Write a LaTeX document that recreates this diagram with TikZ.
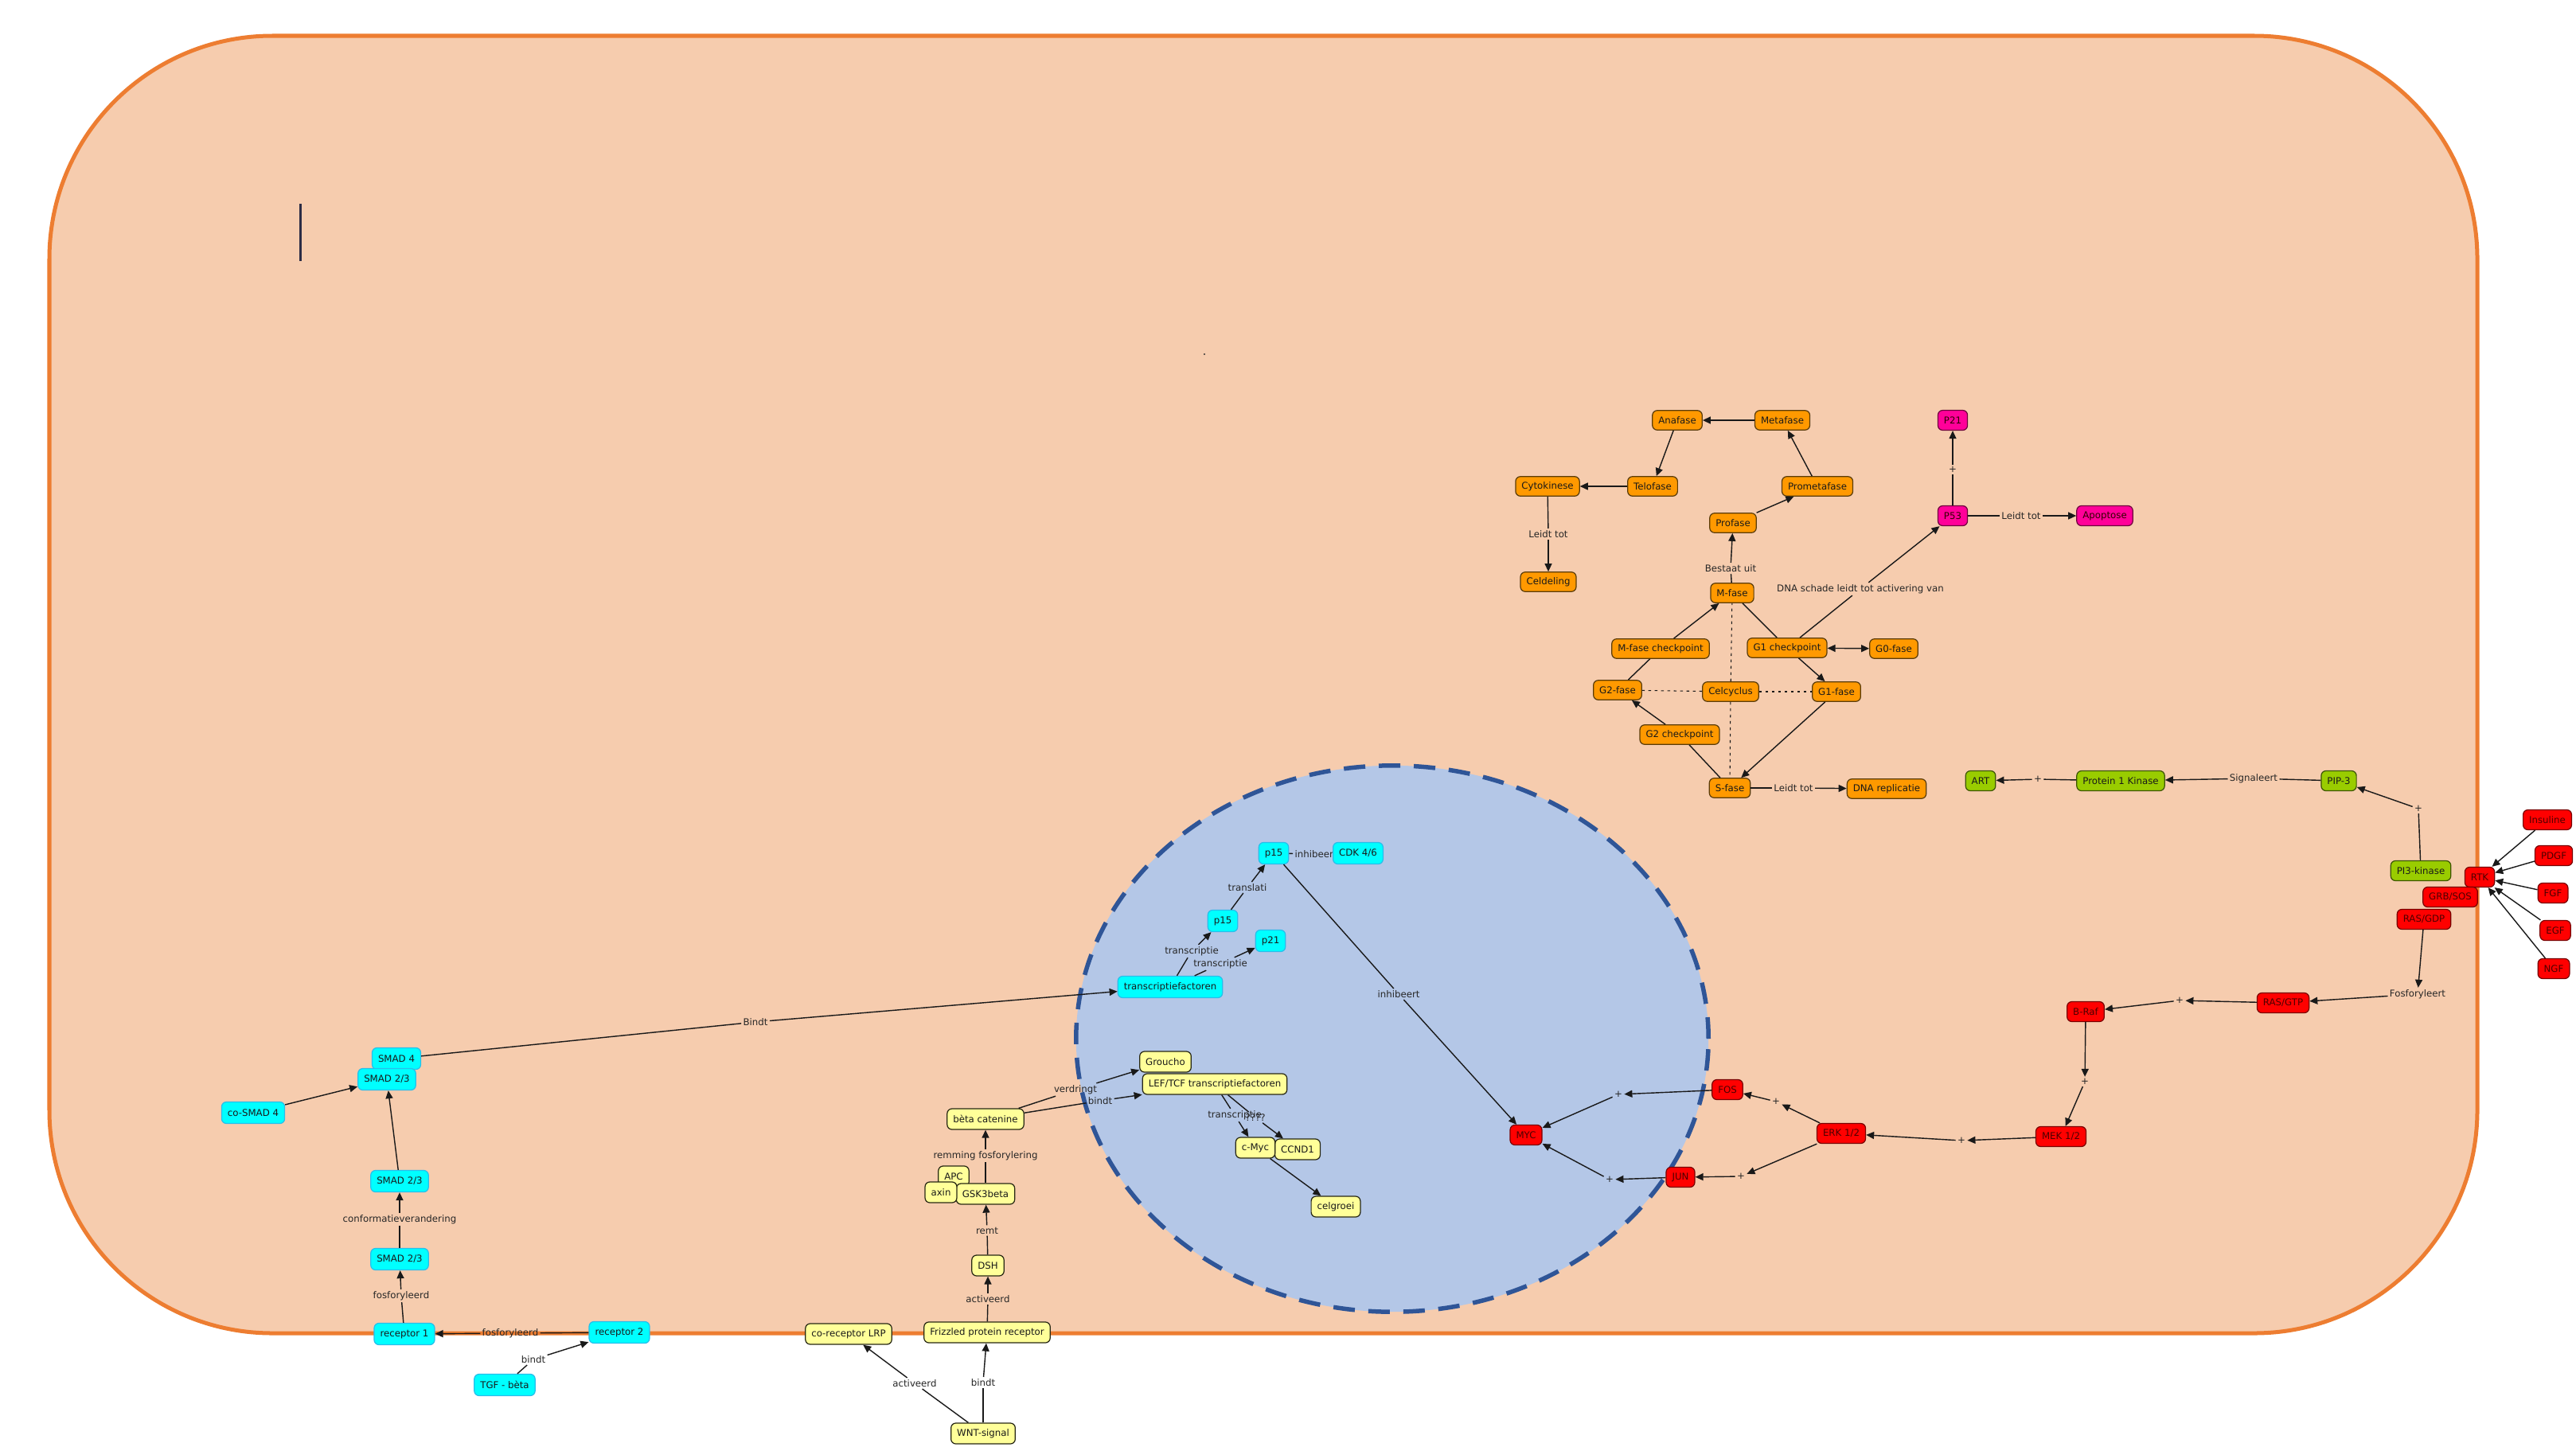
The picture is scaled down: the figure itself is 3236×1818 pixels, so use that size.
\documentclass[tikz,border=0pt]{standalone}
\usepackage{fontspec}
\setmainfont{DejaVu Sans}
\usetikzlibrary{arrows.meta}
\definecolor{celpeach}{RGB}{246,204,174}
\definecolor{celrand}{RGB}{237,125,49}
\definecolor{kernblauw}{RGB}{180,199,231}
\definecolor{kernrand}{RGB}{47,85,151}
\definecolor{faseoranje}{RGB}{255,153,0}
\definecolor{faserand}{RGB}{90,60,10}
\definecolor{roze}{RGB}{255,0,153}
\definecolor{rozerand}{RGB}{110,0,60}
\definecolor{smadcyaan}{RGB}{0,255,255}
\definecolor{smadrand}{RGB}{40,190,235}
\definecolor{wntgeel}{RGB}{255,255,153}
\definecolor{wntrand}{RGB}{40,40,20}
\definecolor{aktgroen}{RGB}{153,204,0}
\definecolor{aktrand}{RGB}{60,85,0}
\definecolor{mapkrood}{RGB}{255,0,0}
\definecolor{mapkrand}{RGB}{120,0,0}
\definecolor{lijngrijs}{RGB}{25,25,25}
\definecolor{cursorgrijs}{RGB}{45,45,70}
\newcommand{\mapfont}{\fontsize{3.35pt}{4pt}\selectfont}

\begin{document}
\begin{tikzpicture}[x=0.01cm, y=-0.01cm,
    cbox/.style={rounded corners=0.06cm, line width=0.35pt, font=\mapfont,
      inner xsep=0.075cm, inner ysep=0pt, minimum height=0.25cm, text=black!90},
    fase/.style={cbox, fill=faseoranje, draw=faserand, minimum height=0.245cm},
    p53box/.style={cbox, fill=roze, draw=rozerand, text=black!80!red},
    smad/.style={cbox, fill=smadcyaan, draw=smadrand, minimum height=0.27cm},
    wnt/.style={cbox, fill=wntgeel, draw=wntrand, minimum height=0.26cm},
    akt/.style={cbox, fill=aktgroen, draw=aktrand},
    mapk/.style={cbox, fill=mapkrood, draw=mapkrand, text=black!70!red},
    lbl/.style={font=\mapfont, inner sep=0.5pt, text=black!85},
    lijn/.style={draw=lijngrijs, line width=0.4pt},
    pijl/.style={lijn, -{Triangle[length=0.1cm, width=0.09cm]}}]

  \useasboundingbox (0,0) rectangle (3236,1818);
  \fill[white] (0,0) rectangle (3236,1818);

  % cel en kern
  \draw[celrand, fill=celpeach, line width=0.05cm, rounded corners=2.8cm] (62,45) rectangle (3112,1675);
  \draw[cursorgrijs, line width=0.03cm] (377,256) -- (377,328);
  \fill[black!80] (1513,445) circle[radius=0.012cm];
  \draw[kernrand, fill=kernblauw, line width=0.055cm, dash pattern=on 0.27cm off 0.17cm]
    (1749,1305) ellipse [x radius=3.97cm, y radius=3.43cm];

  % celcyclus
  \node[fase] (ana) at (2107,528) {Anafase};
  \node[fase] (meta) at (2239,528) {Metafase};
  \node[fase] (cyto) at (1944,611) {Cytokinese};
  \node[fase] (telo) at (2076,611) {Telofase};
  \node[fase] (prometa) at (2283,611) {Prometafase};
  \node[fase] (pro) at (2177,657) {Profase};
  \node[fase] (celdel) at (1945,731) {Celdeling};
  \node[fase] (mfase) at (2176,745) {M-fase};
  \node[fase] (mcheck) at (2086,815) {M-fase checkpoint};
  \node[fase] (gonecheck) at (2245,814) {G1 checkpoint};
  \node[fase] (gzero) at (2379,815) {G0-fase};
  \node[fase] (gtwo) at (2032,867) {G2-fase};
  \node[fase] (cyclus) at (2174,869) {Celcyclus};
  \node[fase] (gone) at (2307,869) {G1-fase};
  \node[fase] (gtwocheck) at (2110,923) {G2 checkpoint};
  \node[fase] (sfase) at (2173,990) {S-fase};
  \node[fase] (dnarep) at (2370,991) {DNA replicatie};
  \node[p53box] (ptwentyone) at (2453,528) {P21};
  \node[p53box] (pfiftythree) at (2453,648) {P53};
  \node[p53box] (apop) at (2644,648) {Apoptose};
  \node[lbl] (lleidta) at (1945,671) {Leidt tot};
  \node[lbl] (lbestaat) at (2174,714) {Bestaat uit};
  \node[lbl] (ldna) at (2337,740) {DNA schade leidt tot activering van};
  \node[lbl] (lleidtb) at (2253,990) {Leidt tot};
  \node[lbl] (lplusp) at (2453,590) {+};
  \node[lbl] (lleidtc) at (2539,648) {Leidt tot};

  % PI3K / AKT
  \node[akt] (art) at (2488,981) {ART};
  \node[akt] (pk) at (2664,981) {Protein 1 Kinase};
  \node[akt] (pip) at (2938,981) {PIP-3};
  \node[akt] (pik) at (3041,1094) {PI3-kinase};
  \node[lbl] (lplusa) at (2560,979) {+};
  \node[lbl] (lsign) at (2831,978) {Signaleert};
  \node[lbl] (lplusb) at (3038,1016) {+};

  % MAPK
  \node[mapk] (rtk) at (3115,1102) {RTK};
  \node[mapk] (grb) at (3078,1127) {GRB/SOS};
  \node[mapk] (rasgdp) at (3045,1155) {RAS/GDP};
  \node[mapk] (ins) at (3200,1030) {Insuline};
  \node[mapk] (pdgf) at (3208,1075) {PDGF};
  \node[mapk] (fgf) at (3207,1122) {FGF};
  \node[mapk] (egf) at (3210,1169) {EGF};
  \node[mapk] (ngf) at (3208,1217) {NGF};
  \node[mapk] (rasgtp) at (2868,1260) {RAS/GTP};
  \node[mapk] (braf) at (2620,1271) {B-Raf};
  \node[mapk] (mek) at (2589,1428) {MEK 1/2};
  \node[mapk] (erk) at (2313,1424) {ERK 1/2};
  \node[mapk] (fos) at (2170,1369) {FOS};
  \node[mapk] (jun) at (2111,1479) {JUN};
  \node[mapk] (myc) at (1917,1426) {MYC};
  \node[lbl] (lfosf) at (3037,1249) {Fosforyleert};
  \node[lbl] (lplusc) at (2738,1257) {+};
  \node[lbl] (lplusd) at (2619,1359) {+};
  \node[lbl] (lpluse) at (2464,1433) {+};
  \node[lbl] (lplusf) at (2231,1384) {+};
  \node[lbl] (lplusg) at (2187,1478) {+};
  \node[lbl] (lplush) at (2033,1375) {+};
  \node[lbl] (lplusi) at (2022,1482) {+};

  % TGF-beta / SMAD
  \node[smad] (pfifteen) at (1600,1072) {p15};
  \node[lbl] (linha) at (1653,1073) {inhibeert};
  \node[smad] (cdk) at (1706,1072) {CDK 4/6};
  \node[smad] (pfifteenb) at (1536,1157) {p15};
  \node[smad] (pone) at (1596,1182) {p21};
  \node[smad] (tfact) at (1470,1240) {transcriptiefactoren};
  \node[smad] (smadfour) at (498,1330) {SMAD 4};
  \node[smad] (smadtop) at (486,1356) {SMAD 2/3};
  \node[smad] (cosmad) at (318,1398) {co-SMAD 4};
  \node[smad] (smadmid) at (502,1484) {SMAD 2/3};
  \node[smad] (smadlow) at (502,1582) {SMAD 2/3};
  \node[smad] (recone) at (508,1676) {receptor 1};
  \node[smad] (rectwo) at (778,1674) {receptor 2};
  \node[smad] (tgf) at (634,1740) {TGF - bèta};
  \node[lbl] (ltransl) at (1567,1115) {translati};
  \node[lbl] (ltransa) at (1497,1195) {transcriptie};
  \node[lbl] (ltransb) at (1533,1211) {transcriptie};
  \node[lbl] (linhb) at (1757,1249) {inhibeert};
  \node[lbl] (lbindta) at (949,1284) {Bindt};
  \node[lbl] (lconf) at (502,1532) {conformatieverandering};
  \node[lbl] (lfosfa) at (504,1628) {fosforyleerd};
  \node[lbl] (lfosfb) at (641,1675) {fosforyleerd};
  \node[lbl] (lbindtb) at (670,1708) {bindt};

  % WNT
  \node[wnt] (groucho) at (1464,1334) {Groucho};
  \node[wnt] (leftcf) at (1526,1362) {LEF/TCF transcriptiefactoren};
  \node[wnt] (beta) at (1238,1406) {bèta catenine};
  \node[wnt] (ccnd) at (1630,1444) {CCND1};
  \node[wnt] (cmyc) at (1577,1442) {c-Myc};
  \node[wnt] (celgroei) at (1678,1516) {celgroei};
  \node[wnt] (apc) at (1198,1478) {APC};
  \node[wnt] (gsk) at (1238,1500) {GSK3beta};
  \node[wnt] (axin) at (1182,1498) {axin};
  \node[wnt] (dsh) at (1241,1590) {DSH};
  \node[wnt] (frizzled) at (1240,1674) {Frizzled protein receptor};
  \node[wnt] (lrp) at (1066,1676) {co-receptor LRP};
  \node[wnt] (wntsig) at (1235,1801) {WNT-signal};
  \node[lbl] (lverd) at (1351,1369) {verdringt};
  \node[lbl] (lbindtc) at (1382,1383) {bindt};
  \node[lbl] (ltransc) at (1551,1401) {transcriptie};
  \node[lbl] (lvraag) at (1577,1404) {????};
  \node[lbl] (lremming) at (1238,1452) {remming fosforylering};
  \node[lbl] (lremt) at (1240,1546) {remt};
  \node[lbl] (lacta) at (1241,1632) {activeerd};
  \node[lbl] (lbindtd) at (1235,1737) {bindt};
  \node[lbl] (lactb) at (1149,1738) {activeerd};

  % verbindingen zonder tekst
  \foreach \a/\b in {meta/ana, ana/telo, telo/cyto, pro/prometa, prometa/meta,
      mcheck/mfase, gtwocheck/gtwo, gone/sfase, gonecheck/gone,
      ins/rtk, pdgf/rtk, fgf/rtk, egf/rtk, ngf/rtk,
      cosmad/smadtop, smadmid/smadtop, cmyc/celgroei}
    \draw[pijl] (\a) -- (\b);
  \foreach \a/\b in {gtwo/mcheck, sfase/gtwocheck, mfase/gonecheck, pfifteen/linha}
    \draw[lijn] (\a) -- (\b);
  \draw[lijn, {Triangle[length=0.1cm, width=0.09cm]}-{Triangle[length=0.1cm, width=0.09cm]}] (gonecheck) -- (gzero);
  \foreach \b in {mfase, sfase, gtwo, gone}
    \draw[lijn, line width=0.3pt, dash pattern=on 0.035cm off 0.045cm] (cyclus) -- (\b);

  % verbindingen via een linktekst
  \foreach \a/\l/\b in {cyto/lleidta/celdel, mfase/lbestaat/pro, gonecheck/ldna/pfiftythree,
      sfase/lleidtb/dnarep, pfiftythree/lplusp/ptwentyone, pfiftythree/lleidtc/apop,
      pik/lplusb/pip, pip/lsign/pk, pk/lplusa/art,
      tfact/ltransa/pfifteenb, tfact/ltransb/pone, pfifteenb/ltransl/pfifteen,
      pfifteen/linhb/myc, smadfour/lbindta/tfact, smadlow/lconf/smadmid,
      recone/lfosfa/smadlow, rectwo/lfosfb/recone, tgf/lbindtb/rectwo,
      beta/lverd/groucho, beta/lbindtc/leftcf, leftcf/ltransc/cmyc, leftcf/lvraag/ccnd,
      gsk/lremming/beta, dsh/lremt/gsk, frizzled/lacta/dsh, wntsig/lbindtd/frizzled,
      wntsig/lactb/lrp}
  {
    \draw[lijn] (\a) -- (\l);
    \draw[pijl] (\l) -- (\b);
  }
  \foreach \a/\l/\b in {rasgdp/lfosf/rasgtp, rasgtp/lplusc/braf, braf/lplusd/mek,
      mek/lpluse/erk, erk/lplusf/fos, erk/lplusg/jun, fos/lplush/myc, jun/lplusi/myc}
  {
    \draw[pijl] (\a) -- (\l);
    \draw[pijl] (\l) -- (\b);
  }
\end{tikzpicture}
\end{document}
